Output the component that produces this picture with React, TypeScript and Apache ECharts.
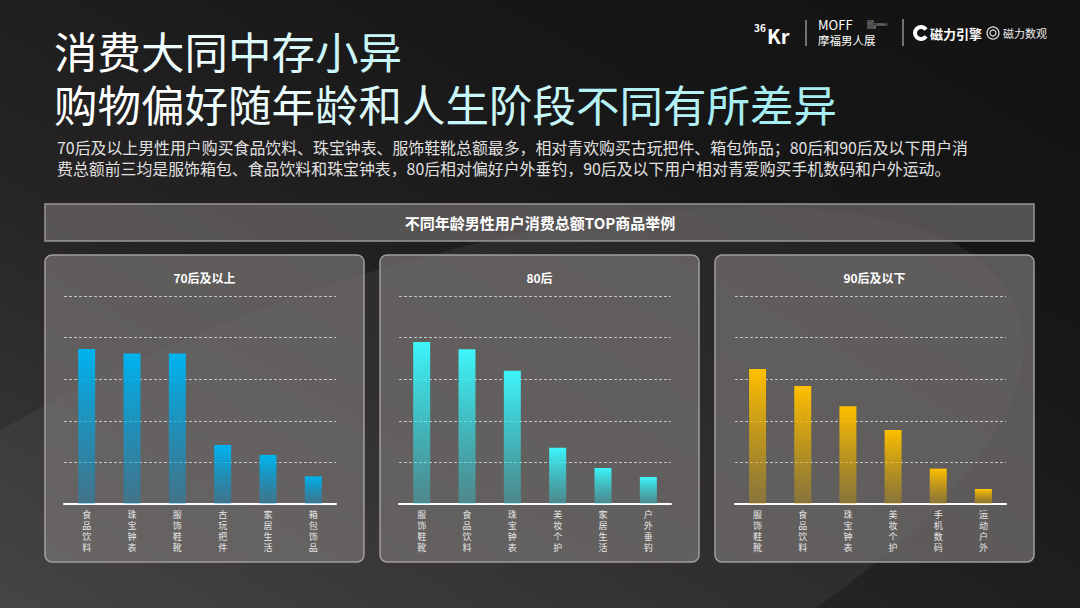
import React, { useEffect, useRef } from "react";
import * as echarts from "echarts";

const cats70 = ["食品饮料", "珠宝钟表", "服饰鞋靴", "古玩把件", "家居生活", "箱包饰品"];
const vals70 = [74.5, 72.4, 72.4, 28.4, 23.6, 13.3];
const cats80 = ["服饰鞋靴", "食品饮料", "珠宝钟表", "美妆个护", "家居生活", "户外垂钓"];
const vals80 = [77.9, 74.4, 64.1, 27.1, 17.3, 13.0];
const cats90 = ["服饰鞋靴", "食品饮料", "珠宝钟表", "美妆个护", "手机数码", "运动户外"];
const vals90 = [64.9, 56.7, 47.0, 35.6, 17.0, 7.2];
const panelTitles = ["70后及以上", "80后", "90后及以下"];
const titleLine1 = "消费大同中存小异";
const titleLine2 = "购物偏好随年龄和人生阶段不同有所差异";
const descLine1 = "70后及以上男性用户购买食品饮料、珠宝钟表、服饰鞋靴总额最多，相对青欢购买古玩把件、箱包饰品；80后和90后及以下用户消";
const descLine2 = "费总额前三均是服饰箱包、食品饮料和珠宝钟表，80后相对偏好户外垂钓，90后及以下用户相对青爱购买手机数码和户外运动。";
const headerText = "不同年龄男性用户消费总额TOP商品举例";

const FONT = "'Noto Sans CJK SC', 'Noto Sans', sans-serif";

// title colours fade from white to pale cyan along the line
const titleColors = ["#ffffff", "#eefcfd", "#dcf9fa", "#c9f6f8", "#b6f2f5", "#a6eef2"];

function gradientRich(text: string, key: string) {
  const n = titleColors.length;
  const chars = text.split("");
  const per = Math.ceil(chars.length / n);
  let out = "";
  for (let k = 0; k < n; k++) {
    const seg = chars.slice(k * per, (k + 1) * per).join("");
    if (seg) out += `{${key}${k}|${seg}}`;
  }
  return out;
}

export default function App() {
  const ref = useRef<HTMLDivElement>(null);
  useEffect(() => {
    if (!ref.current) return;
    const chart = echarts.init(ref.current, null, { renderer: "svg" });
    const panels = [
      { x: 45, cats: cats70, vals: vals70, top: "#00b4f0", bottom: "rgba(0,150,210,0.35)", gl: 64, gw: 272 },
      { x: 380, cats: cats80, vals: vals80, top: "#3ef6fa", bottom: "rgba(40,210,220,0.35)", gl: 399, gw: 272 },
      { x: 715, cats: cats90, vals: vals90, top: "#ffc000", bottom: "rgba(210,160,0,0.35)", gl: 735, gw: 271 },
    ];
    const grids: any[] = [];
    const xAxes: any[] = [];
    const yAxes: any[] = [];
    const series: any[] = [];
    const graphics: any[] = [];

    const rich: any = {};
    titleColors.forEach((c, k) => {
      rich["t" + k] = { fill: c, color: c, font: `43.5px ${FONT}`, fontSize: 43.5, fontFamily: FONT, lineHeight: 46 };
    });

    // background
    graphics.push({
      type: "rect",
      shape: { x: 0, y: 0, width: 1080, height: 608 },
      style: {
        fill: new echarts.graphic.LinearGradient(0, 1, 1, 0, [
          { offset: 0, color: "#3e3c3c" },
          { offset: 0.35, color: "#262424" },
          { offset: 0.7, color: "#181717" },
          { offset: 1, color: "#131212" },
        ]),
      },
      z: -10,
    });
    graphics.push({
      type: "ellipse",
      shape: { cx: 150, cy: 640, rx: 700, ry: 260 },
      rotation: 0.35,
      style: { fill: "rgba(120,118,118,0.14)" },
      z: -9,
    });

    // titles
    graphics.push({
      type: "text", x: 54, y: 50,
      style: { text: gradientRich(titleLine1, "t"), rich, font: `43.5px ${FONT}`, lineHeight: 46, fill: "#ffffff", textVerticalAlign: "middle" },
    });
    graphics.push({
      type: "text", x: 54, y: 103,
      style: { text: gradientRich(titleLine2, "t"), rich, font: `43.5px ${FONT}`, lineHeight: 46, fill: "#ffffff", textVerticalAlign: "middle" },
    });
    graphics.push({
      type: "text", x: 57, y: 147,
      style: { text: descLine1, font: `15.9px ${FONT}`, fill: "#e0e0e0", textVerticalAlign: "middle" },
    });
    graphics.push({
      type: "text", x: 57, y: 168,
      style: { text: descLine2, font: `15.9px ${FONT}`, fill: "#e0e0e0", textVerticalAlign: "middle" },
    });

    // logos
    graphics.push({ type: "text", x: 754, y: 27, style: { text: "36", font: `bold 10px ${FONT}`, fill: "#fff", textVerticalAlign: "middle" } });
    graphics.push({ type: "text", x: 767, y: 35, style: { text: "Kr", font: `bold 20px ${FONT}`, fill: "#fff", textVerticalAlign: "middle" } });
    graphics.push({ type: "line", shape: { x1: 806, y1: 20, x2: 806, y2: 46 }, style: { stroke: "#cfcfcf", lineWidth: 1 } });
    graphics.push({ type: "text", x: 818, y: 24, style: { text: "MOFF", font: `13px ${FONT}`, fill: "#fff", textVerticalAlign: "middle" } });
    graphics.push({ type: "text", x: 867, y: 25, style: { text: "2019\nGENTLEMAN'S\nSHOW", font: `3px ${FONT}`, lineHeight: 3, fill: "#ddd", textVerticalAlign: "middle" } });
    graphics.push({ type: "text", x: 818, y: 40, style: { text: "摩福男人展", font: `11.5px ${FONT}`, fill: "#fff", textVerticalAlign: "middle" } });
    graphics.push({ type: "line", shape: { x1: 903, y1: 19, x2: 903, y2: 46 }, style: { stroke: "#cfcfcf", lineWidth: 1 } });
    graphics.push({ type: "arc", shape: { cx: 921, cy: 33, r: 6, startAngle: 0.6, endAngle: Math.PI * 2 - 0.6 }, style: { stroke: "#fff", lineWidth: 4, fill: "none" } });
    graphics.push({ type: "text", x: 930, y: 33, style: { text: "磁力引擎", font: `bold 13px ${FONT}`, fill: "#fff", textVerticalAlign: "middle" } });
    graphics.push({ type: "circle", shape: { cx: 993, cy: 33, r: 6 }, style: { stroke: "#ddd", lineWidth: 1.2, fill: "none" } });
    graphics.push({ type: "circle", shape: { cx: 993, cy: 33, r: 3 }, style: { stroke: "#ddd", lineWidth: 1.2, fill: "none" } });
    graphics.push({ type: "text", x: 1003, y: 33, style: { text: "磁力数观", font: `11px ${FONT}`, fill: "#eee", textVerticalAlign: "middle" } });

    // header bar
    graphics.push({
      type: "rect",
      shape: { x: 45, y: 204, width: 989, height: 37 },
      style: { fill: "rgba(110,106,106,0.7)", stroke: "#9a9696", lineWidth: 1.5 },
    });
    graphics.push({
      type: "text", x: 540, y: 222,
      style: { text: headerText, font: `bold 15px ${FONT}`, fill: "#ffffff", textAlign: "center", textVerticalAlign: "middle" },
    });

    panels.forEach((p, i) => {
      graphics.push({
        type: "rect",
        shape: { x: p.x, y: 255, width: 319, height: 307, r: 7 },
        style: { fill: "rgba(118,114,114,0.72)", stroke: "#a19d9d", lineWidth: 1.5 },
        z: -1,
      });
      graphics.push({
        type: "text", x: p.x + 159.5, y: 277,
        style: { text: panelTitles[i], font: `bold 12px ${FONT}`, fill: "#ffffff", textAlign: "center", textVerticalAlign: "middle" },
      });
      grids.push({ left: p.gl, width: p.gw, top: 296, height: 208 });
      xAxes.push({
        type: "category",
        gridIndex: i,
        data: p.cats,
        axisLine: { lineStyle: { color: "#ffffff", width: 2 } },
        axisTick: { show: false },
        axisLabel: {
          color: "#e8e8e8",
          fontSize: 9,
          lineHeight: 11,
          margin: 5,
          fontFamily: FONT,
          formatter: (v: string) => v.split("").join("\n"),
        },
      });
      yAxes.push({
        type: "value",
        gridIndex: i,
        min: 0,
        max: 100,
        interval: 20,
        axisLabel: { show: false },
        axisLine: { show: false },
        axisTick: { show: false },
        splitLine: { lineStyle: { color: "rgba(230,230,230,0.75)", type: [3, 2], width: 1 } },
      });
      series.push({
        type: "bar",
        xAxisIndex: i,
        yAxisIndex: i,
        data: p.vals,
        barWidth: 17,
        itemStyle: {
          color: new echarts.graphic.LinearGradient(0, 0, 0, 1, [
            { offset: 0, color: p.top },
            { offset: 1, color: p.bottom },
          ]),
        },
      });
    });

    chart.setOption({
      animation: false,
      backgroundColor: "#1a1919",
      grid: grids,
      xAxis: xAxes,
      yAxis: yAxes,
      series,
      graphic: graphics,
    });
    return () => chart.dispose();
  }, []);
  return (
    <div
      ref={ref}
      style={{ position: "fixed", left: 0, top: 0, width: 1080, height: 608 }}
    />
  );
}
